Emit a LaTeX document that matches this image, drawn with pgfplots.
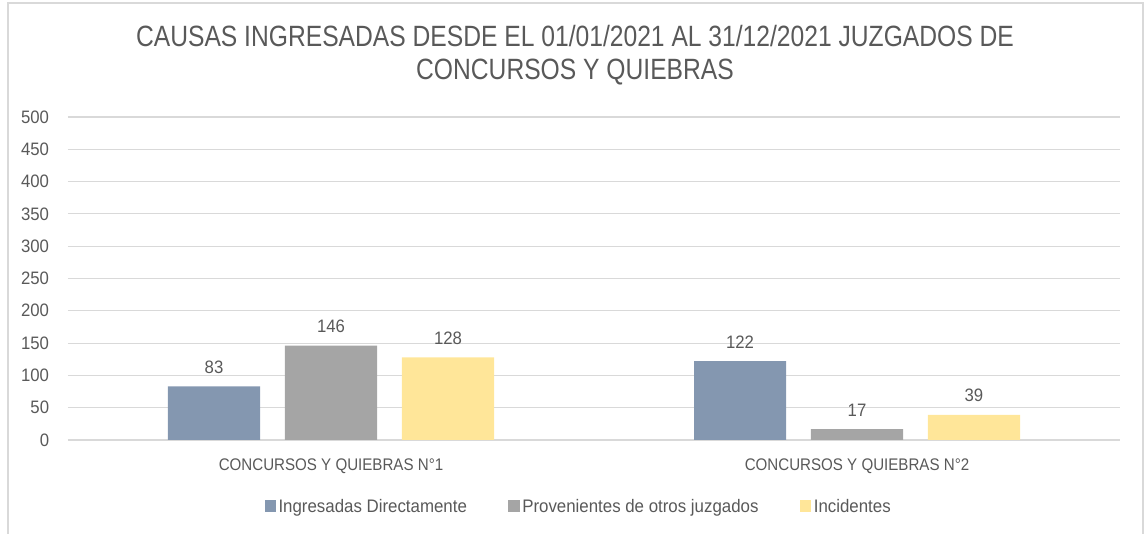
\documentclass[border=0pt]{standalone}
\usepackage{fontspec}
\setmainfont{Liberation Sans}[FakeStretch=0.93]
\newfontfamily\titlefont{Liberation Sans}[FakeStretch=0.84]
\newfontfamily\catfont{Liberation Sans}[FakeStretch=0.9]
\usepackage{pgfplots}
\pgfplotsset{compat=1.18}
\definecolor{cA}{HTML}{8497B0}
\definecolor{cB}{HTML}{A5A5A5}
\definecolor{cC}{HTML}{FFE699}
\definecolor{txt}{HTML}{595959}
\definecolor{grd}{HTML}{D9D9D9}
\begin{document}
\begin{tikzpicture}
\path (0pt,0pt) rectangle (861pt,400.5pt);
\draw[grd, line width=1.1pt] (6pt,0pt) -- (6pt,398.25pt) -- (857.25pt,398.25pt) -- (857.25pt,0pt);
\node[anchor=base, text=txt, font=\titlefont\fontsize{22}{25}\selectfont] at (431.25pt,365.25pt) {CAUSAS INGRESADAS DESDE EL 01/01/2021 AL 31/12/2021 JUZGADOS DE};
\node[anchor=base, text=txt, font=\titlefont\fontsize{22}{25}\selectfont] at (431.25pt,340.5pt) {CONCURSOS Y QUIEBRAS};
\begin{axis}[
  at={(51pt,70.5pt)}, anchor=south west,
  scale only axis, width=789pt, height=242.25pt,
  xmin=-0.5, xmax=1.5, ymin=0, ymax=500,
  ytick={0,50,...,500},
  xtick={0,1},
  xticklabels={CONCURSOS Y QUIEBRAS N°1, CONCURSOS Y QUIEBRAS N°2},
  major tick length=0pt,
  axis x line*=bottom, axis y line*=left,
  x axis line style={grd, line width=1.2pt},
  y axis line style={draw=none},
  ymajorgrids, major grid style={grd, line width=0.8pt},
  tick label style={text=txt, font=\fontsize{13.5}{15}\selectfont},
  /pgf/number format/assume math mode=true,
  yticklabel style={anchor=east, inner sep=0pt, xshift=-14pt},
  xticklabel style={anchor=base, inner sep=0pt, yshift=-23pt, font=\catfont\fontsize{12.6}{14}\selectfont},
  ybar, bar width=0.175,
  nodes near coords,
  every node near coord/.append style={text=txt, font=\fontsize{13.5}{15}\selectfont, anchor=base, inner sep=0pt, yshift=9.75pt},
  legend columns=3,
  legend style={at={(0.4857,-0.2074)}, anchor=center, draw=none, fill=none,
    text=txt, font=\fontsize{13.6}{15}\selectfont,
    /tikz/every even column/.append style={column sep=29pt}},
  legend cell align=left,
  legend image code/.code={\fill[#1,draw=none] (0pt,-3.6pt) rectangle (8.5pt,4.9pt);},
]
\addplot[fill=cA, draw=none, bar shift=-0.2224] coordinates {(0,83) (1,122)};
\addplot[fill=cB, draw=none, bar shift=0] coordinates {(0,146) (1,17)};
\addplot[fill=cC, draw=none, bar shift=0.2224] coordinates {(0,128) (1,39)};
\legend{Ingresadas Directamente, Provenientes de otros juzgados, Incidentes}
\end{axis}
\end{tikzpicture}
\end{document}
